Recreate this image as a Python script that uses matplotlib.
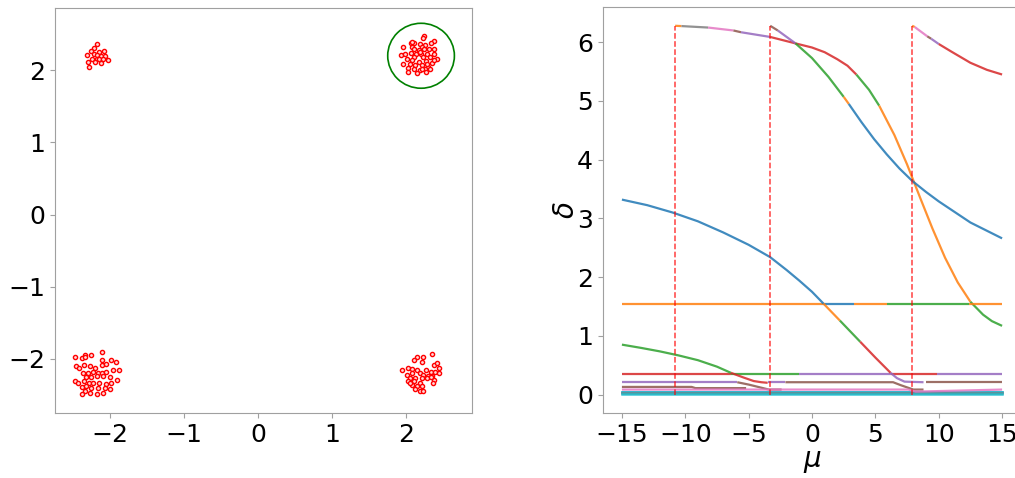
import numpy as np
import matplotlib.pyplot as plt
from matplotlib.patches import Circle

# ---- left panel: the four point clouds ----
tl_x = [-2.18, -2.21, -2.26, -2.14, -2.08, -2.31, -2.21, -2.17, -2.12, -2.06,
        -2.03, -2.24, -2.17, -2.14, -2.09, -2.29, -2.20, -2.12, -2.28]
tl_y = [2.36, 2.31, 2.27, 2.25, 2.27, 2.21, 2.23, 2.21, 2.19, 2.19,
        2.14, 2.16, 2.15, 2.15, 2.15, 2.12, 2.11, 2.10, 2.05]

tr_x = [2.24, 2.23, 2.37, 2.33, 2.06, 2.11, 2.18, 2.26, 1.96, 2.08, 2.21, 2.38,
        2.11, 2.17, 2.24, 2.31, 2.06, 1.93, 2.13, 2.20, 2.28, 2.37, 2.10, 2.23,
        2.32, 2.41, 2.01, 2.08, 2.17, 2.27, 2.35, 1.96, 2.05, 2.12, 2.21, 2.30,
        2.03, 2.10, 2.18, 2.26, 2.32, 2.02, 2.14, 2.27, 2.21, 2.08, 2.19, 2.28,
        1.99, 2.37]
tr_y = [2.48, 2.44, 2.41, 2.38, 2.38, 2.38, 2.36, 2.35, 2.32, 2.32, 2.32, 2.30,
        2.29, 2.28, 2.29, 2.30, 2.24, 2.21, 2.23, 2.22, 2.23, 2.22, 2.18, 2.18,
        2.18, 2.16, 2.15, 2.14, 2.12, 2.13, 2.10, 2.08, 2.09, 2.07, 2.07, 2.05,
        2.03, 2.02, 2.00, 2.02, 2.01, 1.98, 1.96, 1.98, 2.02, 2.39, 2.25, 2.09,
        2.23, 2.14]

bl_x = [-2.47, -2.38, -2.34, -2.26, -2.33, -2.11, -2.11, -1.98, -1.92, -2.46,
        -2.41, -2.35, -2.27, -2.20, -2.10, -2.05, -2.36, -2.29, -2.23, -2.16,
        -2.11, -2.05, -1.96, -1.87, -2.32, -2.25, -2.18, -2.09, -2.00, -1.90,
        -2.47, -2.43, -2.35, -2.28, -2.23, -2.14, -2.05, -1.98, -2.38, -2.32,
        -2.25, -2.16, -2.07, -2.00, -2.34, -2.27, -2.18, -2.09, -2.38]
bl_y = [-1.98, -1.99, -1.95, -1.95, -1.98, -1.91, -2.01, -2.01, -2.05, -2.10,
        -2.13, -2.08, -2.10, -2.13, -2.08, -2.07, -2.20, -2.19, -2.18, -2.19,
        -2.20, -2.18, -2.16, -2.15, -2.25, -2.25, -2.24, -2.24, -2.25, -2.29,
        -2.30, -2.33, -2.31, -2.33, -2.33, -2.34, -2.35, -2.33, -2.39, -2.38,
        -2.41, -2.41, -2.41, -2.42, -2.44, -2.47, -2.48, -2.47, -2.48]

br_x = [2.35, 2.23, 2.14, 2.10, 2.21, 2.37, 2.42, 2.44, 2.03, 1.94, 2.08, 2.14,
        2.27, 2.33, 2.39, 2.01, 2.08, 2.19, 2.23, 2.30, 2.35, 2.44, 2.05, 2.12,
        2.21, 2.28, 2.37, 2.03, 2.10, 2.19, 2.36, 2.08, 2.14, 2.21, 2.12, 2.18,
        2.23, 2.05, 2.33]
br_y = [-1.93, -1.98, -1.98, -2.02, -2.05, -2.08, -2.06, -2.12, -2.12, -2.15,
        -2.14, -2.16, -2.16, -2.18, -2.18, -2.22, -2.20, -2.20, -2.22, -2.24,
        -2.24, -2.20, -2.27, -2.27, -2.27, -2.27, -2.29, -2.31, -2.31, -2.33,
        -2.34, -2.36, -2.37, -2.38, -2.42, -2.44, -2.44, -2.34, -2.25]

circle_xy = (2.2, 2.2)
circle_r = 0.45

# ---- right panel: branches delta(mu), knots ----
arc1_mu = [-10.8, -10.3, -8.2, -6.2, -5.6, -3.3, -1.3, 0.0, 1.0, 2.0, 2.8, 3.5,
           4.5, 5.3, 6.5, 7.5, 8.5, 9.5, 10.5, 11.5, 12.5, 13.5, 14.2, 15.0]
arc1_d = [6.28, 6.275, 6.25, 6.20, 6.17, 6.09, 5.98, 5.91, 5.83, 5.71, 5.60, 5.45,
          5.19, 4.92, 4.42, 3.92, 3.37, 2.83, 2.33, 1.91, 1.58, 1.36, 1.25, 1.17]
arc1_c = ['C1', 'C7', 'C6', 'C5', 'C4', 'C3', 'C3', 'C3', 'C3', 'C3', 'C3',
          'C2', 'C2', 'C1', 'C1', 'C1', 'C1', 'C1', 'C1', 'C1', 'C2', 'C2', 'C2']

arc2_mu = [-3.3, -2.7, -1.3, 0.0, 1.3, 2.5, 2.9, 3.9, 4.9, 5.9, 6.9, 7.9,
           9.0, 10.0, 12.5, 15.0]
arc2_d = [6.28, 6.20, 5.98, 5.73, 5.41, 5.07, 4.95, 4.64, 4.35, 4.09, 3.85, 3.64,
          3.45, 3.29, 2.93, 2.66]
arc2_c = ['C5', 'C4', 'C2', 'C2', 'C2', 'C1', 'C0', 'C0', 'C0', 'C0', 'C0',
          'C0', 'C0', 'C0', 'C0']

arc3_mu = [7.9, 8.1, 9.1, 9.4, 10.0, 11.0, 12.5, 13.8, 15.0]
arc3_d = [6.28, 6.26, 6.10, 6.06, 5.97, 5.84, 5.65, 5.53, 5.45]
arc3_c = ['C1', 'C6', 'C5', 'C4', 'C3', 'C3', 'C3', 'C3']

low1_mu = [-15.0, -13.0, -11.0, -9.0, -7.0, -5.0, -3.3, -2.0, -1.0, 0.0, 0.9,
           2.2, 3.8, 5.0, 6.2, 6.7, 7.3, 8.8]
low1_d = [3.32, 3.225, 3.10, 2.95, 2.76, 2.55, 2.34, 2.12, 1.94, 1.75, 1.55,
          1.26, 0.90, 0.63, 0.37, 0.28, 0.22, 0.21]
low1_c = ['C0', 'C0', 'C0', 'C0', 'C0', 'C0', 'C0', 'C0', 'C0', 'C0', 'C1',
          'C2', 'C3', 'C3', 'C4', 'C4', 'C4']

low2_mu = [-15.0, -13.5, -12.0, -10.5, -9.0, -7.5, -6.4, -5.4, -4.6, -4.0, -3.5]
low2_d = [0.85, 0.795, 0.735, 0.665, 0.585, 0.475, 0.37, 0.29, 0.23, 0.21, 0.20]
low2_c = ['C2', 'C2', 'C2', 'C2', 'C2', 'C2', 'C3', 'C3', 'C3', 'C3']

flat155_mu = [-15.0, 0.9, 3.3, 5.9, 12.4, 15.0]
flat155_d = [1.55, 1.55, 1.55, 1.55, 1.55, 1.55]
flat155_c = ['C1', 'C0', 'C1', 'C2', 'C1']

flat035_mu = [-15.0, -6.4, -1.06, 6.2, 9.9, 15.0]
flat035_d = [0.35, 0.35, 0.35, 0.35, 0.35, 0.35]
flat035_c = ['C3', 'C2', 'C4', 'C3', 'C4']

flat020a_mu = [-15.0, -5.9, -5.0, -3.4, -2.4]
flat020a_d = [0.21, 0.21, 0.17, 0.085, 0.085]
flat020a_c = ['C4', 'C5', 'C5', 'C5']

flat020b_mu = [-3.5, -2.1, 6.4, 7.0, 8.0, 8.8]
flat020b_d = [0.21, 0.21, 0.21, 0.16, 0.085, 0.085]
flat020b_c = ['C4', 'C5', 'C5', 'C5', 'C5']

flat020c_mu = [9.0, 15.0]
flat020c_d = [0.21, 0.21]
flat020c_c = ['C5']

flat013_mu = [-15.0, -9.5, -9.2, -5.2]
flat013_d = [0.13, 0.13, 0.11, 0.11]
flat013_c = ['C5', 'C5', 'C5']

flat008_mu = [-15.0, 7.6, 8.2, 15.0]
flat008_d = [0.085, 0.085, 0.05, 0.085]
flat008_c = ['C6', 'C6', 'C6']

band_mu = [-15.0, 15.0]
band_levels = [0.05, 0.035, 0.02, 0.005]
band_colors = ['C0', 'C9', 'C7', 'C9']

mu_jumps = [-10.8, -3.3, 7.9]

branches = [
    (arc1_mu, arc1_d, arc1_c), (arc2_mu, arc2_d, arc2_c), (arc3_mu, arc3_d, arc3_c),
    (flat155_mu, flat155_d, flat155_c), (flat035_mu, flat035_d, flat035_c),
    (flat020a_mu, flat020a_d, flat020a_c), (flat020b_mu, flat020b_d, flat020b_c),
    (flat020c_mu, flat020c_d, flat020c_c), (flat013_mu, flat013_d, flat013_c),
    (flat008_mu, flat008_d, flat008_c),
    (low1_mu, low1_d, low1_c), (low2_mu, low2_d, low2_c),
]


def draw_branch(ax, mu, d, c):
    # join consecutive knot intervals that share a colour
    start = 0
    for i in range(1, len(c) + 1):
        if i == len(c) or c[i] != c[start]:
            ax.plot(mu[start:i + 1], d[start:i + 1], color=c[start], lw=1.6,
                    alpha=0.85, solid_capstyle='butt')
            start = i


plt.rcParams['axes.edgecolor'] = '#a0a0a0'
plt.rcParams['xtick.color'] = '#a0a0a0'
plt.rcParams['ytick.color'] = '#a0a0a0'
plt.rcParams['xtick.labelcolor'] = 'black'
plt.rcParams['ytick.labelcolor'] = 'black'

fig = plt.figure(figsize=(10.15, 4.78), dpi=100)
ax1 = fig.add_axes([0.0542, 0.136, 0.411, 0.847])
ax2 = fig.add_axes([0.594, 0.136, 0.412, 0.849])

# left
for xs, ys in [(tl_x, tl_y), (tr_x, tr_y), (bl_x, bl_y), (br_x, br_y)]:
    ax1.plot(xs, ys, 'o', ls='none', ms=3.0, mfc='#ffd8d8', mec='red', mew=1.0)
ax1.add_patch(Circle(circle_xy, circle_r, fill=False, ec='green', lw=1.2))
ax1.set_xlim(-2.74, 2.89)
ax1.set_ylim(-2.75, 2.86)
ax1.set_xticks([-2, -1, 0, 1, 2])
ax1.set_yticks([-2, -1, 0, 1, 2])
ax1.tick_params(labelsize=18)

# right
for lv, col in zip(band_levels, band_colors):
    ax2.plot(band_mu, [lv, lv], color=col, lw=1.8, alpha=0.85)
for mu, d, c in branches:
    draw_branch(ax2, mu, d, c)
ax2.vlines(mu_jumps, 0, 2 * np.pi, colors='red', linestyles='--', lw=1.1, alpha=0.75)
ax2.set_xlim(-16.5, 16.5)
ax2.set_ylim(-0.314, 6.597)
ax2.set_xticks([-15, -10, -5, 0, 5, 10, 15])
ax2.set_yticks([0, 1, 2, 3, 4, 5, 6])
ax2.tick_params(labelsize=18)
ax2.set_xlabel(r'$\mu$', fontsize=20, labelpad=0)
ax2.set_ylabel(r'$\delta$', fontsize=20, labelpad=-2)

fig.savefig('out.png', dpi=100)
